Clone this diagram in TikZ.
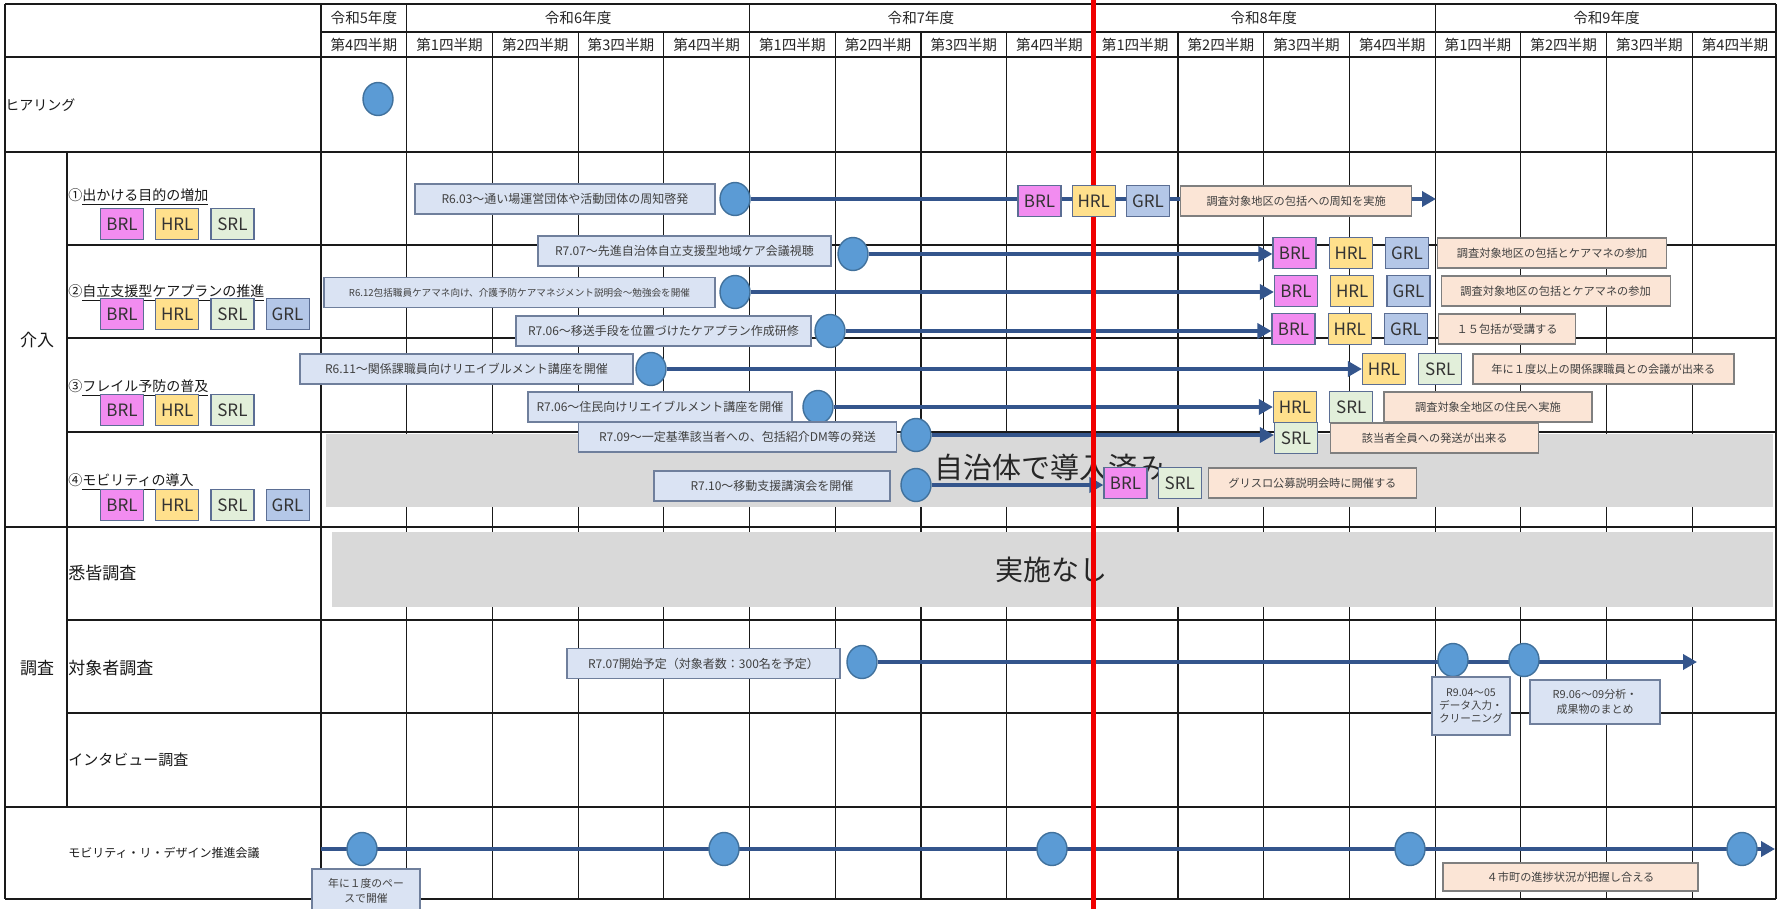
\documentclass[tikz,border=0pt]{standalone}
\usepackage{fontspec}
\setmainfont{Noto Sans CJK JP}
\usepackage{xcolor}
\usepackage{tikz}
\usetikzlibrary{arrows.meta,positioning,shapes.geometric}
\definecolor{gridblack}{HTML}{1A1A1A}
\definecolor{linkblue}{HTML}{34558C}
\definecolor{dotblue}{HTML}{5B9BD5}
\definecolor{dotedge}{HTML}{41719C}
\definecolor{notebg}{HTML}{DAE3F3}
\definecolor{noteedge}{HTML}{6F7F9C}
\definecolor{goalbg}{HTML}{FBE5D6}
\definecolor{goaledge}{HTML}{7F7F7F}
\definecolor{brlpink}{HTML}{F28CF0}
\definecolor{hrlyellow}{HTML}{FFE08C}
\definecolor{srlgreen}{HTML}{E2EFDA}
\definecolor{grlblue}{HTML}{B4C7E7}
\definecolor{tagedge}{HTML}{5B6E94}
\definecolor{doneg}{HTML}{D9D9D9}
\definecolor{nowred}{HTML}{F00000}
\newcommand{\fsz}[1]{\fontsize{#1}{#1}\selectfont}
\pgfdeclarelayer{grid}
\pgfdeclarelayer{links}
\pgfsetlayers{grid,links,main}

\begin{document}
\begin{tikzpicture}[x=0.5pt,y=-0.5pt,
		hd/.style={font=\fsz{7.3},text=black!85,inner sep=0pt},
		lb/.style={anchor=west,font=\fsz{7},text=black!90,inner sep=0pt},
		grp/.style={font=\fsz{8.5},text=black!90,inner sep=0pt},
		dot/.style={ellipse,draw=dotedge,line width=0.7pt,fill=dotblue,minimum width=15pt,minimum height=16.5pt,inner sep=0pt},
		nt/.style={draw=noteedge,line width=0.6pt,fill=notebg,font=\fsz{6},text=black!75,minimum height=15pt,inner sep=1pt,align=center},
		gl/.style={draw=goaledge,line width=0.6pt,fill=goalbg,font=\fsz{5.6},text=black!75,minimum height=15pt,inner sep=1pt},
		tg/.style={draw=tagedge,line width=0.6pt,minimum width=21.5pt,minimum height=15.5pt,inner sep=0pt,font=\fsz{8.5},text=black!80},
		brl/.style={tg,fill=brlpink},
		hrl/.style={tg,fill=hrlyellow},
		srl/.style={tg,fill=srlgreen},
		grl/.style={tg,fill=grlblue},
		ln/.style={draw=linkblue,line width=2pt},
		a/.style={ln,-{Triangle[length=7pt,width=7.5pt]}},
		rule/.style={draw=gridblack,line width=0.6pt},
		major/.style={draw=gridblack,line width=1pt},
		done/.style={fill=doneg,draw=none},
		big/.style={font=\fsz{14.5},text=black!85,inner sep=0pt},
		now/.style={draw=nowred,line width=2.5pt}
		]
		\useasboundingbox (0,0) rectangle (1778,909);
		\begin{pgfonlayer}{grid}
			\fill[white] (0,0) rectangle (1778,909);
			% table rules
			\foreach \y in {4,57,152,527,807,899} \draw[major] (5,\y) -- (1776,\y);
			\foreach \y in {245,338,432,620,713} \draw[rule] (67,\y) -- (1776,\y);
			\draw[rule] (321,32) -- (1776,32);
			\draw[major] (5,4) -- (5,899);
			\draw[rule] (67,152) -- (67,807);
			\draw[rule] (321,4) -- (321,899);
			\draw[major] (1776,4) -- (1776,899);
			\foreach \i in {1,...,16}{
				\pgfmathsetmacro\ytop{ifthenelse(mod(\i-1,4)==0,4,32)}
				\draw[rule] ({321+85.7*\i},\ytop) -- ({321+85.7*\i},899);
			}
			% shaded rows
			\fill[done] (326,434) rectangle (1773,507);
			\fill[done] (332,532) rectangle (1773,607);
			\node[big] (jichi) at (1050,468) {自治体で導入済み};
			\node[big,font=\fsz{14}] (nashi) at (1051,570) {実施なし};
		\end{pgfonlayer}

		% header
		\node[hd] (y5) at (363.9,18) {令和5年度};
		\node[hd] (y6) at (578.1,18) {令和6年度};
		\node[hd] (y7) at (920.9,18) {令和7年度};
		\node[hd] (y8) at (1263.7,18) {令和8年度};
		\node[hd] (y9) at (1606.5,18) {令和9年度};
		\foreach \i in {0,...,16}{
			\pgfmathtruncatemacro\qq{mod(\i+3,4)+1}
			\node[hd] (q\i) at ({321+85.7*(\i+0.5)},44.5) {第\qq{}四半期};
		}

		% row labels
		\node[lb] (hear) at (5,105) {ヒアリング};
		\node[grp] (kai) at (37,340) {介入};
		\node[lb] (m1) at (68,197) {①\underline{出かける目的の増加}};
		\node[brl] (t1b) at (122,224) {BRL};
		\node[hrl,right=5.5pt of t1b] (t1h) {HRL};
		\node[srl,right=5.5pt of t1h] (t1s) {SRL};
		\node[lb] (m2) at (68,293) {②\underline{自立支援型ケアプランの推進}};
		\node[brl] (t2b) at (122,314) {BRL};
		\node[hrl,right=5.5pt of t2b] (t2h) {HRL};
		\node[srl,right=5.5pt of t2h] (t2s) {SRL};
		\node[grl,right=5.5pt of t2s] (t2g) {GRL};
		\node[lb] (m3) at (68,388) {③\underline{フレイル予防の普及}};
		\node[brl] (t3b) at (122,410) {BRL};
		\node[hrl,right=5.5pt of t3b] (t3h) {HRL};
		\node[srl,right=5.5pt of t3h] (t3s) {SRL};
		\node[lb] (m4) at (68,482) {④\underline{モビリティの導入}};
		\node[brl] (t4b) at (122,505) {BRL};
		\node[hrl,right=5.5pt of t4b] (t4h) {HRL};
		\node[srl,right=5.5pt of t4h] (t4s) {SRL};
		\node[grl,right=5.5pt of t4s] (t4g) {GRL};
		\node[lb,font=\fsz{8.5}] (sit) at (68,573) {悉皆調査};
		\node[grp] (cho) at (37,668) {調査};
		\node[lb,font=\fsz{8.5}] (tai) at (68,668) {対象者調査};
		\node[lb,font=\fsz{7.5}] (inv) at (68,760) {インタビュー調査};
		\node[lb,font=\fsz{6}] (mob) at (68,853) {モビリティ・リ・デザイン推進会議};

		% hearing
		\node[dot] (d0) at (378,99) {};

		% 1
		\node[nt,minimum width=150pt] (n1a) at (565,199) {R6.03～通い場運営団体や活動団体の周知啓発};
		\node[dot] (d1a) at (735,199) {};
		\node[brl] (b1a) at (1039.5,201) {BRL};
		\node[hrl,right=5pt of b1a] (h1a) {HRL};
		\node[grl,right=5pt of h1a] (g1a) {GRL};
		\node[gl,right=5pt of g1a,minimum width=115.5pt] (o1a) {調査対象地区の包括への周知を実施};
		\coordinate (e1a) at (1436,199);

		% 2
		\node[nt,minimum width=146.5pt] (n2a) at (684.5,251) {R7.07～先進自治体自立支援型地域ケア会議視聴};
		\node[dot] (d2a) at (853,254) {};
		\node[brl] (b2a) at (1294.5,253) {BRL};
		\node[hrl,right=6pt of b2a] (h2a) {HRL};
		\node[grl,right=6pt of h2a] (g2a) {GRL};
		\node[gl,right=4pt of g2a,minimum width=114.5pt] (o2a) {調査対象地区の包括とケアマネの参加};

		\node[nt,minimum width=195.5pt,font=\fsz{4.8}] (n2b) at (519.5,292.5) {R6.12包括職員ケアマネ向け、介護予防ケアマネジメント説明会～勉強会を開催};
		\node[dot] (d2b) at (735,292) {};
		\node[brl] (b2b) at (1296,291) {BRL};
		\node[hrl,right=6pt of b2b] (h2b) {HRL};
		\node[grl,right=6pt of h2b] (g2b) {GRL};
		\node[gl,right=5pt of g2b,minimum width=114.5pt] (o2b) {調査対象地区の包括とケアマネの参加};

		\node[nt,minimum width=147.5pt] (n2c) at (663.5,331) {R7.06～移送手段を位置づけたケアプラン作成研修};
		\node[dot] (d2c) at (830,331) {};
		\node[brl] (b2c) at (1293.5,329) {BRL};
		\node[hrl,right=6pt of b2c] (h2c) {HRL};
		\node[grl,right=6pt of h2c] (g2c) {GRL};
		\node[gl,right=5pt of g2c,minimum width=68.5pt] (o2c) {１５包括が受講する};

		% 3
		\node[nt,minimum width=166.5pt] (n3a) at (466.5,369) {R6.11～関係課職員向けリエイブルメント講座を開催};
		\node[dot] (d3a) at (651,369) {};
		\node[hrl] (h3a) at (1384,369) {HRL};
		\node[srl,right=6pt of h3a] (s3a) {SRL};
		\node[gl,right=5pt of s3a,minimum width=130.5pt] (o3a) {年に１度以上の関係課職員との会議が出来る};

		\node[nt,minimum width=132pt] (n3b) at (660,407) {R7.06～住民向けリエイブルメント講座を開催};
		\node[dot] (d3b) at (818,407) {};
		\node[hrl] (h3b) at (1295,407) {HRL};
		\node[srl,right=6pt of h3b] (s3b) {SRL};
		\node[gl,right=5pt of s3b,minimum width=104pt] (o3b) {調査対象全地区の住民へ実施};

		% 4
		\node[nt,minimum width=159pt] (n4a) at (737.5,437) {R7.09～一定基準該当者への、包括紹介DM等の発送};
		\node[dot] (d4a) at (916,435) {};
		\node[srl] (s4a) at (1296,438) {SRL};
		\node[gl,right=6pt of s4a,minimum width=104pt] (o4a) {該当者全員への発送が出来る};

		\node[nt,minimum width=118pt] (n4b) at (772,486) {R7.10～移動支援講演会を開催};
		\node[dot] (d4b) at (916,485) {};
		\node[brl] (b4b) at (1125.5,483) {BRL};
		\node[srl,right=5pt of b4b] (s4b) {SRL};
		\node[gl,right=3pt of s4b,minimum width=104pt] (o4b) {グリスロ公募説明会時に開催する};

		% survey
		\node[nt,minimum width=136.5pt] (n6a) at (703.5,663.5) {R7.07開始予定（対象者数：300名を予定）};
		\node[dot] (d6a) at (862,662) {};
		\node[dot] (d6b) at (1453,660) {};
		\node[dot] (d6c) at (1524,660) {};
		\coordinate (e6) at (1697,662);
		\node[nt,minimum width=39pt,minimum height=29pt,font=\fontsize{5.3}{6.6}\selectfont] (n6b) at (1471,706) {R9.04～05\\データ入力・\\クリーニング};
		\node[nt,minimum width=65pt,minimum height=22pt,font=\fontsize{5.5}{7.5}\selectfont] (n6c) at (1595,702) {R9.06～09分析・\\成果物のまとめ};

		% meeting
		\coordinate (s7) at (321,849);
		\coordinate (e7) at (1775,849);
		\node[dot] (d7a) at (362,849) {};
		\node[dot] (d7b) at (724,849) {};
		\node[dot] (d7c) at (1052,849) {};
		\node[dot] (d7d) at (1410,849) {};
		\node[dot] (d7e) at (1742,849) {};
		\node[nt,minimum width=54pt,minimum height=22pt,font=\fontsize{5.4}{7.5}\selectfont] (n7) at (366,891) {年に１度のペー\\スで開催};
		\node[gl,minimum width=127.5pt,minimum height=14pt] (o7) at (1570.5,877) {４市町の進捗状況が把握し合える};

		\coordinate (nowtop) at (1093,0);
		\coordinate (nowbot) at (1093,909);

		\begin{pgfonlayer}{links}
			\draw[a] (d1a) -- (e1a);
			\draw[a] (d2a) -- (d2a -| b2a.west);
			\draw[a] (d2b) -- (d2b -| b2b.west);
			\draw[a] (d2c) -- (d2c -| b2c.west);
			\draw[a] (d3a) -- (d3a -| h3a.west);
			\draw[a] (d3b) -- (d3b -| h3b.west);
			\draw[a] (d4a) -- (d4a -| s4a.west);
			\draw[a] (d4b) -- (d4b -| b4b.west);
			\draw[a] (d6a) -- (e6);
			\draw[a] (s7) -- (e7);
			\draw[now] (nowtop) -- (nowbot);
		\end{pgfonlayer}
	\end{tikzpicture}
\end{document}
